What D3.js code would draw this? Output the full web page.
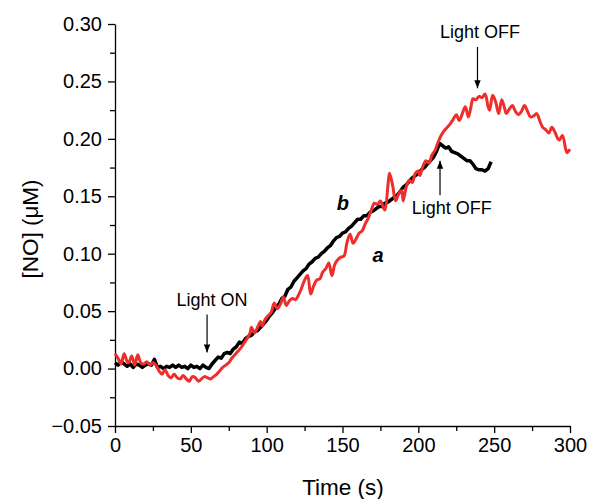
<!DOCTYPE html>
<html>
<head>
<meta charset="utf-8">
<script src="https://cdn.jsdelivr.net/npm/d3@7"></script>
<style>
  body { margin: 0; background: #fff; }
  text { font-family: Arial, 'Liberation Sans', sans-serif; }
</style>
</head>
<body>
<svg id="chart" width="589" height="499"></svg>
<script>
// curve b (black) : [time s, NO uM]
const curveB = [
  [0, 0.005], [2, 0.003], [4, 0.006], [6, 0.004], [8, 0.002], [10, 0.004], [12, 0.001], [14, 0.004],
  [16, 0.003], [18, 0.001], [20, 0.003], [22, 0.004], [24, 0.003], [26, 0.008], [28, 0.001], [30, 0.002],
  [32, 0.000], [34, 0.002], [36, 0.001], [38, 0.003], [40, 0.001], [42, 0.003], [44, 0.001], [46, 0.002],
  [48, 0.000], [50, 0.003], [52, 0.001], [54, 0.002], [56, 0.000], [58, 0.003], [60, 0.001], [62, 0.000],
  [64, 0.004], [66, 0.007], [68, 0.010], [70, 0.009], [72, 0.013], [74, 0.014], [76, 0.013], [78, 0.017],
  [80, 0.019], [82, 0.023], [84, 0.022], [86, 0.026], [88, 0.028], [90, 0.029], [92, 0.032], [94, 0.033],
  [96, 0.036], [98, 0.039], [100, 0.042], [102, 0.046], [104, 0.049], [106, 0.053], [108, 0.056], [110, 0.061],
  [112, 0.063], [114, 0.069], [116, 0.071], [118, 0.076], [120, 0.079], [122, 0.082], [124, 0.085], [126, 0.087],
  [128, 0.091], [130, 0.093], [132, 0.096], [134, 0.097], [136, 0.100], [138, 0.102], [140, 0.105], [142, 0.107],
  [144, 0.111], [146, 0.114], [148, 0.115], [150, 0.118], [152, 0.119], [154, 0.122], [156, 0.124], [158, 0.127],
  [160, 0.130], [162, 0.130], [164, 0.133], [166, 0.133], [168, 0.136], [170, 0.137], [172, 0.139], [174, 0.141],
  [176, 0.141], [178, 0.144], [180, 0.145], [182, 0.147], [184, 0.149], [186, 0.151], [188, 0.154], [190, 0.158],
  [192, 0.160], [194, 0.163], [196, 0.166], [198, 0.168], [200, 0.170], [202, 0.173], [204, 0.175], [206, 0.178],
  [208, 0.181], [210, 0.184], [212, 0.189], [214, 0.196], [216, 0.194], [218, 0.192], [220, 0.193], [222, 0.189],
  [224, 0.188], [226, 0.187], [228, 0.185], [230, 0.183], [232, 0.181], [234, 0.181], [236, 0.178], [238, 0.174],
  [240, 0.173], [242, 0.173], [244, 0.172], [246, 0.174], [248, 0.180]
]

// curve a (red)
const curveA = [
  [0, 0.013], [2, 0.009], [4, 0.004], [6, 0.013], [8, 0.006], [9, 0.005], [11, 0.011], [13, 0.003],
  [15, 0.012], [17, 0.005], [19, 0.004], [21, 0.006], [23, 0.003], [25, 0.005], [27, 0.003], [29, -0.002],
  [31, -0.005], [33, -0.001], [35, -0.006], [37, -0.008], [39, -0.005], [41, -0.008], [43, -0.009], [45, -0.006],
  [47, -0.009], [49, -0.011], [51, -0.007], [53, -0.008], [55, -0.011], [57, -0.009], [59, -0.007], [61, -0.008],
  [63, -0.009], [65, -0.007], [67, -0.005], [69, -0.002], [71, 0.001], [73, 0.003], [75, 0.005], [77, 0.009],
  [79, 0.012], [81, 0.015], [83, 0.018], [85, 0.022], [87, 0.026], [89, 0.031], [90, 0.036], [92, 0.031],
  [94, 0.036], [96, 0.041], [97, 0.037], [99, 0.043], [101, 0.046], [103, 0.049], [105, 0.057], [107, 0.052],
  [109, 0.056], [111, 0.062], [113, 0.055], [115, 0.059], [117, 0.061], [119, 0.060], [121, 0.064], [123, 0.070],
  [125, 0.077], [127, 0.081], [129, 0.065], [131, 0.072], [133, 0.077], [135, 0.078], [137, 0.084], [139, 0.087],
  [141, 0.092], [143, 0.081], [145, 0.091], [147, 0.095], [149, 0.097], [151, 0.098], [153, 0.110], [155, 0.117],
  [157, 0.109], [159, 0.113], [161, 0.118], [163, 0.120], [165, 0.126], [167, 0.131], [169, 0.138], [171, 0.144],
  [173, 0.143], [175, 0.146], [177, 0.140], [178, 0.138], [180, 0.160], [181, 0.170], [183, 0.160], [185, 0.146],
  [187, 0.152], [189, 0.155], [190, 0.146], [192, 0.158], [194, 0.164], [196, 0.162], [198, 0.170], [200, 0.172],
  [201, 0.168], [203, 0.176], [205, 0.181], [207, 0.179], [209, 0.186], [211, 0.190], [213, 0.197], [215, 0.203],
  [217, 0.207], [219, 0.210], [221, 0.213], [223, 0.217], [225, 0.221], [227, 0.216], [229, 0.222], [231, 0.228],
  [233, 0.219], [235, 0.230], [236, 0.235], [238, 0.234], [240, 0.237], [242, 0.236], [244, 0.239], [246, 0.228],
  [247, 0.225], [249, 0.238], [251, 0.232], [253, 0.222], [255, 0.234], [257, 0.226], [258, 0.222], [260, 0.226],
  [262, 0.229], [264, 0.224], [266, 0.221], [268, 0.224], [270, 0.229], [272, 0.224], [274, 0.219], [276, 0.220],
  [278, 0.222], [280, 0.216], [282, 0.210], [284, 0.208], [286, 0.205], [288, 0.210], [290, 0.206], [292, 0.200],
  [293, 0.199], [295, 0.203], [297, 0.192], [298, 0.188], [300, 0.191]
]

const xTicks = [0, 50, 100, 150, 200, 250, 300]
const yTicks = [-0.05, 0.00, 0.05, 0.10, 0.15, 0.20, 0.25, 0.30]

// arrows: x, tail value, tip value
const arrows = [
  {t: 60.7, from: 0.047, to: 0.014},
  {t: 239, from: 0.280, to: 0.244},
  {t: 214.3, from: 0.151, to: 0.181}
]
const notes = [
  {t: 64, v: 0.0545, text: 'Light ON'},
  {t: 240.7, v: 0.288, text: 'Light OFF'},
  {t: 222, v: 0.1346, text: 'Light OFF'}
]
const curveLabels = [
  {t: 150.3, v: 0.138, text: 'b'},
  {t: 173.4, v: 0.0928, text: 'a'}
]

const svg = d3.select('#chart')
const x = d3.scaleLinear().domain([0, 300]).range([115, 570])
const y = d3.scaleLinear().domain([-0.05, 0.30]).range([426, 24])

// minor ticks
svg.append('g')
  .attr('transform', 'translate(0,426)')
  .call(d3.axisBottom(x).tickValues(d3.range(25, 300, 50)).tickSize(5).tickFormat(''))
  .call(g => g.select('.domain').remove())
svg.append('g')
  .attr('transform', 'translate(115,0)')
  .call(d3.axisLeft(y).tickValues(d3.range(-0.025, 0.3, 0.05)).tickSize(5).tickFormat(''))
  .call(g => g.select('.domain').remove())

const xAxis = svg.append('g')
  .attr('transform', 'translate(0,426)')
  .call(d3.axisBottom(x).tickValues(xTicks).tickSize(7).tickSizeOuter(0).tickPadding(5))
xAxis.selectAll('text').style('font-size', '20px').attr('fill', '#000')

const yAxis = svg.append('g')
  .attr('transform', 'translate(115,0)')
  .call(d3.axisLeft(y).tickValues(yTicks).tickSize(7).tickSizeOuter(0).tickPadding(6).tickFormat(d3.format('.2f')))
yAxis.selectAll('text').style('font-size', '20px').attr('fill', '#000')

svg.selectAll('.domain, .tick line').attr('stroke', '#000').attr('stroke-width', 1.3)

svg.append('text')
  .attr('x', 343).attr('y', 495)
  .attr('text-anchor', 'middle')
  .style('font-size', '22.5px')
  .text('Time (s)')

svg.append('text')
  .attr('transform', 'translate(38,229) rotate(-90)')
  .attr('text-anchor', 'middle')
  .style('font-size', '22.5px')
  .text('[NO] (μM)')

const line = d3.line().x(d => x(d[0])).y(d => y(d[1]))
const smoothLine = d3.line().curve(d3.curveCatmullRom).x(d => x(d[0])).y(d => y(d[1]))

svg.append('path')
  .datum(curveB)
  .attr('d', line)
  .attr('fill', 'none')
  .attr('stroke', '#000')
  .attr('stroke-width', 3.5)
  .attr('stroke-linejoin', 'round')

svg.append('path')
  .datum(curveA)
  .attr('d', smoothLine)
  .attr('fill', 'none')
  .attr('stroke', '#ee2e2a')
  .attr('stroke-width', 3)
  .attr('stroke-linejoin', 'round')

// arrow head
svg.append('defs').append('marker')
  .attr('id', 'head')
  .attr('markerUnits', 'userSpaceOnUse')
  .attr('viewBox', '0 -5 10 10')
  .attr('refX', 10)
  .attr('refY', 0)
  .attr('markerWidth', 8)
  .attr('markerHeight', 8)
  .attr('orient', 'auto')
  .append('path')
  .attr('d', 'M0,-4L10,0L0,4Z')
  .attr('fill', '#000')

svg.selectAll('.arrow')
  .data(arrows)
  .enter()
  .append('line')
  .attr('class', 'arrow')
  .attr('x1', d => x(d.t)).attr('x2', d => x(d.t))
  .attr('y1', d => y(d.from)).attr('y2', d => y(d.to))
  .attr('stroke', '#000')
  .attr('stroke-width', 1.2)
  .attr('marker-end', 'url(#head)')

svg.selectAll('.note')
  .data(notes)
  .enter()
  .append('text')
  .attr('class', 'note')
  .attr('x', d => x(d.t)).attr('y', d => y(d.v))
  .attr('text-anchor', 'middle')
  .style('font-size', '18px')
  .text(d => d.text)

svg.selectAll('.clabel')
  .data(curveLabels)
  .enter()
  .append('text')
  .attr('class', 'clabel')
  .attr('x', d => x(d.t)).attr('y', d => y(d.v))
  .attr('text-anchor', 'middle')
  .style('font-size', '20px')
  .style('font-weight', 'bold')
  .style('font-style', 'italic')
  .text(d => d.text)
</script>
</body>
</html>
